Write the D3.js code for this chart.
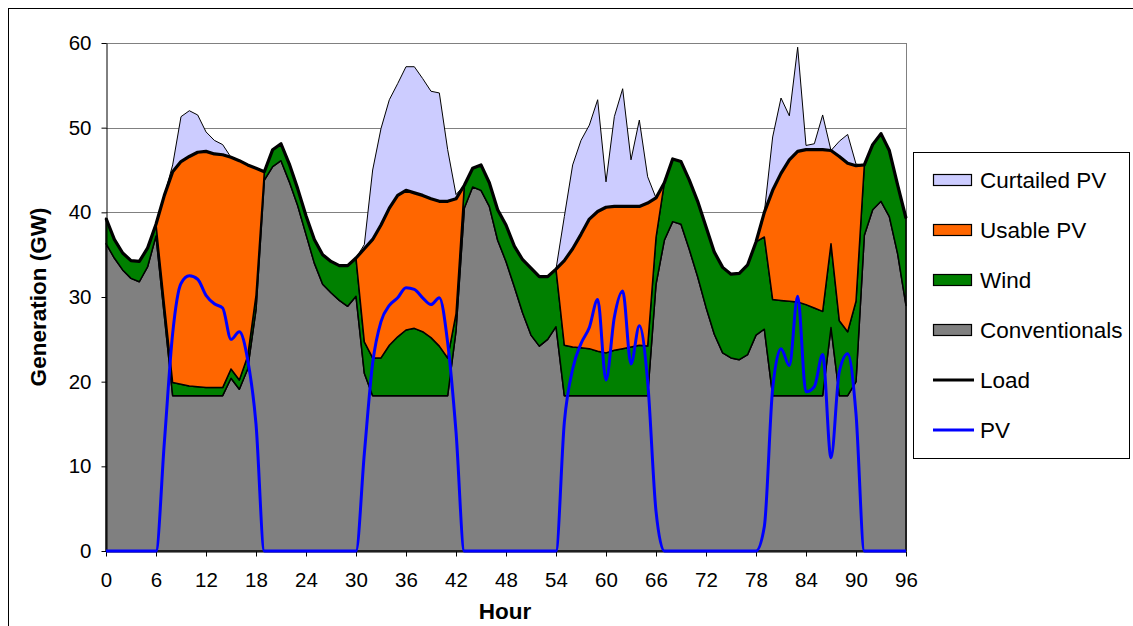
<!DOCTYPE html>
<html><head><meta charset="utf-8">
<script src="https://cdn.jsdelivr.net/npm/d3@7"></script>
<style>
html,body{margin:0;padding:0;background:#fff;}
svg{display:block;font-family:Arial,"Liberation Sans",sans-serif;}
</style></head><body>
<svg id="chart" width="1133" height="626"></svg>
<script>
// ---- data (GW, hourly) ----
const hours = [
  0,1,2,3,4,5,6,7,8,9,10,11,12,13,14,15,16,17,18,19,20,21,22,23,24,
  25,26,27,28,29,30,31,32,33,34,35,36,37,38,39,40,41,42,43,44,45,46,47,48,
  49,50,51,52,53,54,55,56,57,58,59,60,61,62,63,64,65,66,67,68,69,70,71,72,
  73,74,75,76,77,78,79,80,81,82,83,84,85,86,87,88,89,90,91,92,93,94,95,96];

const conventional = [
  36.3, 34.6, 33.2, 32.2, 31.8, 33.6, 37.2, 27.8, 18.35, 18.35,
  18.35, 18.35, 18.35, 18.35, 18.35, 20.4, 19.1, 21.5, 28.5, 43.8,
  45.4, 46.1, 43.6, 40.8, 37.4, 34.0, 31.5, 30.5, 29.6, 28.9,
  30.1, 21.0, 18.35, 18.35, 18.35, 18.35, 18.35, 18.35, 18.35, 18.35,
  18.35, 18.35, 26.0, 40.5, 43.0, 42.6, 40.7, 36.7, 34.2, 31.2,
  28.1, 25.5, 24.2, 25.0, 26.5, 18.35, 18.35, 18.35, 18.35, 18.35,
  18.35, 18.35, 18.35, 18.35, 18.35, 18.35, 31.5, 36.7, 38.9, 38.6,
  35.6, 32.4, 28.8, 25.6, 23.4, 22.8, 22.6, 23.2, 25.5, 26.2,
  18.35, 18.35, 18.35, 18.35, 18.35, 18.35, 18.35, 26.4, 18.35, 18.35,
  20.0, 37.3, 40.3, 41.3, 39.5, 35.1, 29.0];

const wind = [
  3.0, 2.2, 2.0, 2.1, 2.4, 2.2, 1.4, 1.4, 1.55, 1.35,
  1.15, 1.05, 0.95, 0.95, 0.95, 1.1, 1.1, 1.5, 1.7, 1.0,
  2.0, 2.0, 2.1, 2.0, 2.2, 2.8, 3.5, 3.7, 4.1, 4.8,
  4.5, 3.7, 4.45, 4.45, 5.95, 6.95, 7.75, 7.95, 7.55, 6.85,
  5.85, 4.45, 2.0, 2.7, 2.2, 3.0, 2.8, 3.6, 4.3, 4.8,
  6.3, 7.9, 8.2, 7.4, 6.8, 5.95, 5.75, 5.65, 5.55, 5.25,
  5.05, 5.35, 5.55, 5.75, 5.95, 5.85, 5.5, 6.8, 7.4, 7.4,
  8.2, 8.9, 9.5, 9.7, 10.1, 9.9, 10.2, 10.6, 11.0, 10.9,
  11.35, 11.25, 11.15, 11.05, 10.75, 10.35, 9.95, 9.9, 8.85, 7.55,
  9.5, 8.3, 7.7, 8.0, 7.8, 8.1, 10.3];

const usablePV = [
  0, 0, 0, 0, 0, 0, 0, 12.8, 24.9, 26.3,
  27.1, 27.7, 27.9, 27.6, 27.5, 25.0, 25.9, 22.6, 15.0, 0,
  0, 0, 0, 0, 0, 0, 0, 0, 0, 0,
  0, 11.0, 14.0, 15.7, 16.2, 16.7, 16.5, 16.0, 16.1, 16.4,
  17.1, 18.5, 13.6, 0, 0, 0, 0, 0, 0, 0,
  0, 0, 0, 0, 0, 10.0, 11.6, 13.4, 15.3, 16.5,
  17.2, 17.0, 16.8, 16.6, 16.4, 16.9, 4.7, 0, 0, 0,
  0, 0, 0, 0, 0, 0, 0, 0, 0, 2.9,
  12.9, 15.0, 16.7, 17.8, 18.3, 18.7, 19.1, 11.0, 19.4, 19.9,
  16.0, 0, 0, 0, 0, 0, 0];

const curtailedPV = [
  0, 0, 0, 0, 0, 0, 0, 0, 0.8, 5.3,
  5.4, 4.4, 2.3, 1.6, 1.2, 0, 0, 0, 0, 0,
  0, 0, 0, 0, 0, 0, 0, 0, 0, 0,
  0, 0.5, 8.2, 11.4, 12.8, 13.2, 14.6, 14.9, 13.8, 12.7,
  12.8, 6.1, 0.5, 0, 0, 0, 0, 0, 0, 0,
  0, 0, 0, 0, 0, 5.2, 9.9, 11.1, 11.1, 13.2,
  3.0, 10.6, 13.9, 5.5, 10.2, 3.1, 0, 0, 0, 0,
  0, 0, 0, 0, 0, 0, 0, 0, 0, 0,
  6.3, 8.9, 5.2, 12.3, 0.5, 0.7, 4.1, 0, 1.8, 3.4,
  0.2, 0, 0, 0, 0, 0, 0];

const xTicks = [0,6,12,18,24,30,36,42,48,54,60,66,72,78,84,90,96];
const yTicks = [0,10,20,30,40,50,60];

const seriesKeys = ["conventional","wind","usable","curtailed"];
const seriesNames = {conventional:"Conventionals", wind:"Wind", usable:"Usable PV", curtailed:"Curtailed PV"};
const colors = {conventional:"#808080", wind:"#008000", usable:"#FF6600", curtailed:"#CCCCFF"};

// ---- build ----
const rows = hours.map((h,i)=>({hour:h, conventional:conventional[i], wind:wind[i], usable:usablePV[i], curtailed:curtailedPV[i]}));
const stacked = d3.stack().keys(seriesKeys)(rows);

const svg = d3.select("#chart");
const x = d3.scaleLinear().domain([0,96]).range([106,906]);
const y = d3.scaleLinear().domain([0,60]).range([551,43]);

// outer frame
svg.append("rect").attr("x",8.5).attr("y",8.5).attr("width",1200).attr("height",700)
  .attr("fill","none").attr("stroke","#000").attr("stroke-width",1);

// gridlines + plot frame
svg.append("g").selectAll("line").data(yTicks.filter(v=>v>0)).join("line")
  .attr("x1",x(0)).attr("x2",x(96))
  .attr("y1",d=>Math.round(y(d))+0.5).attr("y2",d=>Math.round(y(d))+0.5)
  .attr("stroke","#808080").attr("stroke-width",1);
svg.append("line").attr("x1",Math.round(x(96))+0.5).attr("x2",Math.round(x(96))+0.5)
  .attr("y1",y(60)).attr("y2",y(0)).attr("stroke","#808080").attr("stroke-width",1);

// stacked areas
const area = d3.area().x(d=>x(d.data.hour)).y0(d=>y(d[0])).y1(d=>y(d[1]));
svg.append("g").selectAll("path").data(stacked).join("path")
  .attr("d",area)
  .attr("fill",d=>colors[d.key])
  .attr("stroke","#000")
  .attr("stroke-width",d=>d.key==="curtailed"?1:1.5)
  .attr("stroke-linejoin","round");

// load line = top of usable PV layer
const loadLayer = stacked.find(s=>s.key==="usable");
svg.append("path").datum(loadLayer)
  .attr("d",d3.line().x(d=>x(d.data.hour)).y(d=>y(d[1])))
  .attr("fill","none").attr("stroke","#000").attr("stroke-width",3.2).attr("stroke-linejoin","round");

// axes
const yAxis = d3.axisLeft(y).tickValues(yTicks).tickSize(5).tickSizeOuter(0).tickPadding(10);
const gy = svg.append("g").attr("transform",`translate(${Math.round(x(0))+0.5},0)`).call(yAxis);
const xAxis = d3.axisBottom(x).tickValues(xTicks).tickSize(5).tickSizeOuter(0).tickPadding(16);
const gx = svg.append("g").attr("transform",`translate(0,${Math.round(y(0))+0.5})`).call(xAxis);
[gx,gy].forEach(g=>{
  g.attr("font-family",'Arial,"Liberation Sans",sans-serif').attr("font-size",20.5);
  g.selectAll("path,line").attr("stroke","#000");
  g.selectAll("text").attr("fill","#000");
});

// PV line (usable + curtailed)
svg.append("path").datum(rows)
  .attr("d",d3.line().curve(d3.curveMonotoneX).x(d=>x(d.hour)).y(d=>y(d.usable+d.curtailed)))
  .attr("fill","none").attr("stroke","#0000FF").attr("stroke-width",3).attr("stroke-linejoin","round");

// axis titles
svg.append("text").attr("x",505).attr("y",619).attr("text-anchor","middle")
  .attr("font-size",22.5).attr("font-weight","bold").text("Hour");
svg.append("text").attr("transform","translate(46,297) rotate(-90)").attr("text-anchor","middle")
  .attr("font-size",22.5).attr("font-weight","bold").text("Generation (GW)");

// legend
const lg = svg.append("g");
lg.append("rect").attr("x",913.5).attr("y",152.5).attr("width",216).attr("height",306)
  .attr("fill","#fff").attr("stroke","#000").attr("stroke-width",1);
const legendItems = [
  {name:seriesNames.curtailed, type:"box", color:colors.curtailed},
  {name:seriesNames.usable, type:"box", color:colors.usable},
  {name:seriesNames.wind, type:"box", color:colors.wind},
  {name:seriesNames.conventional, type:"box", color:colors.conventional},
  {name:"Load", type:"line", color:"#000"},
  {name:"PV", type:"line", color:"#0000FF"}
];
legendItems.forEach((it,i)=>{
  const cy = 180 + i*50;
  if(it.type==="box"){
    lg.append("rect").attr("x",933.5).attr("y",cy-5.5).attr("width",38).attr("height",11)
      .attr("fill",it.color).attr("stroke","#000").attr("stroke-width",1.2);
  } else {
    lg.append("line").attr("x1",933).attr("x2",974).attr("y1",cy).attr("y2",cy)
      .attr("stroke",it.color).attr("stroke-width",3);
  }
  lg.append("text").attr("x",980).attr("y",cy).attr("dy","0.36em")
    .attr("font-size",22.5).attr("fill","#000").text(it.name);
});
</script>
</body></html>
